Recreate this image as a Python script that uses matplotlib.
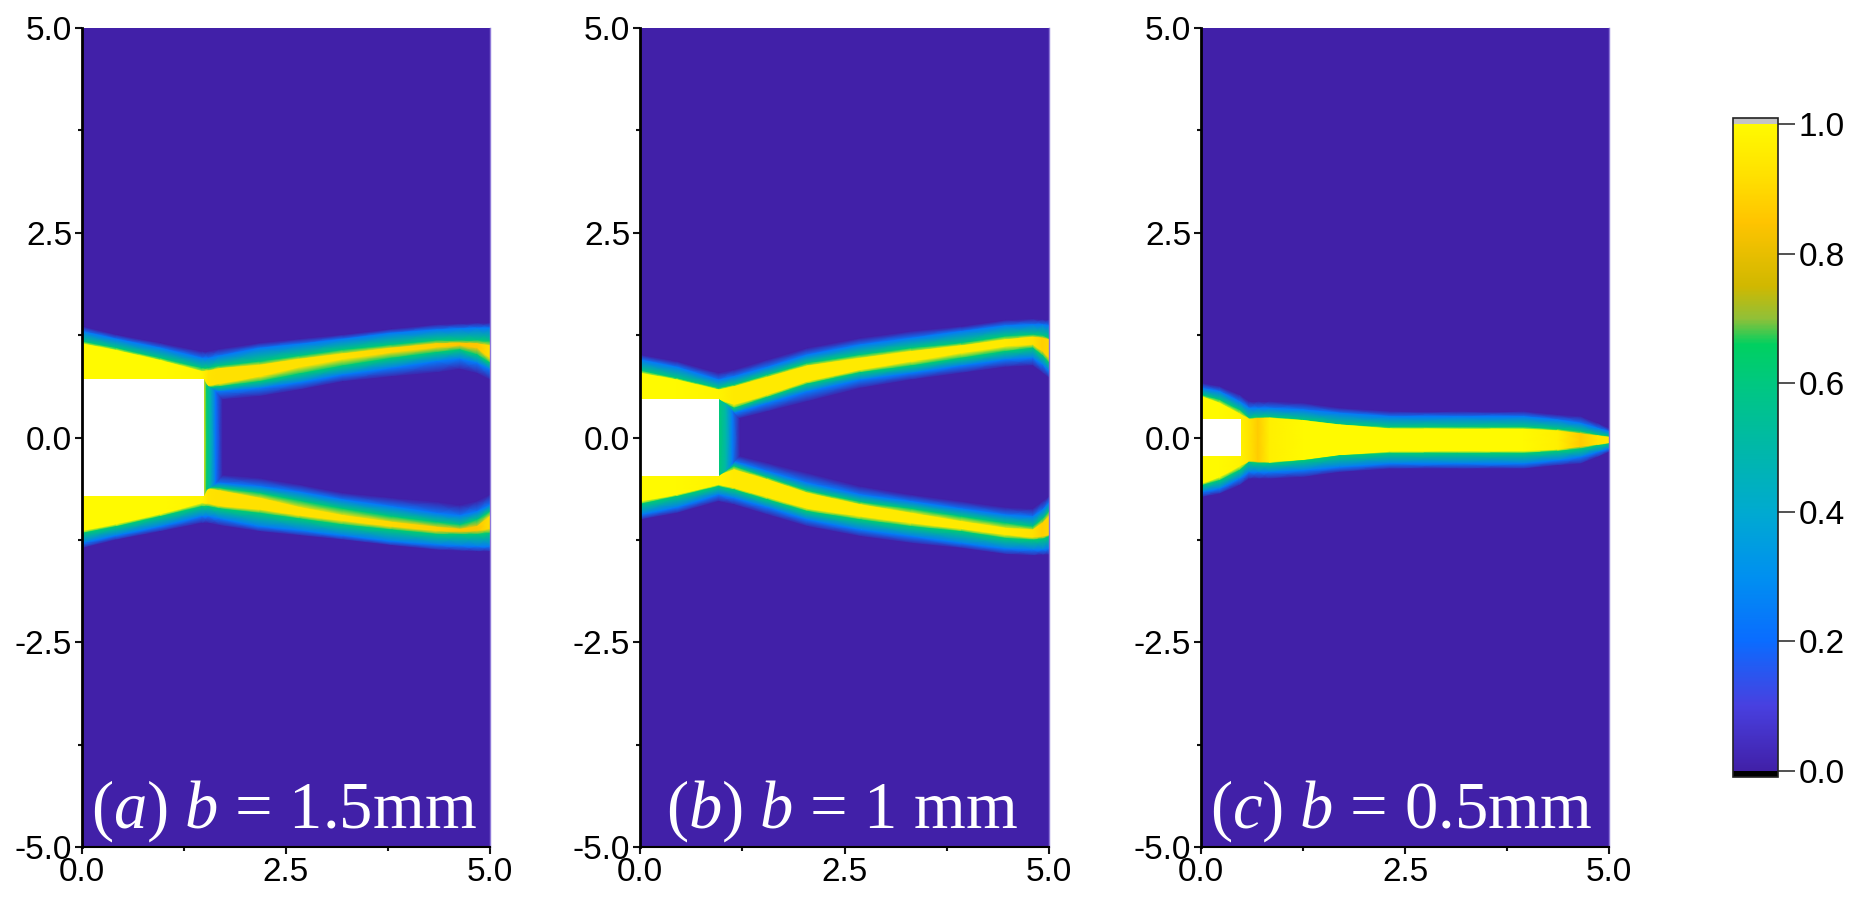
import numpy as np
import matplotlib
matplotlib.use("Agg")
import matplotlib.pyplot as plt
from matplotlib.colors import LinearSegmentedColormap
from matplotlib.patches import Rectangle
from matplotlib.cm import ScalarMappable
from matplotlib.colors import Normalize

plt.rcParams["font.family"] = ["Liberation Sans", "DejaVu Sans"]
plt.rcParams["mathtext.fontset"] = "custom"
plt.rcParams["mathtext.rm"] = "Liberation Serif"
plt.rcParams["mathtext.it"] = "Liberation Serif:italic"

W, H = 1855, 917

# colour scale
cbar_pos = [0.0, 0.1, 0.2, 0.3, 0.4, 0.5, 0.6, 0.66, 0.7, 0.75, 0.85, 0.92, 1.0]
cbar_col = ["#4120A8", "#4840E0", "#0A6CFF", "#0090F0", "#00AAD0", "#00B8A8", "#00C880",
            "#00D060", "#90C038", "#D0B800", "#FFC400", "#FFE000", "#FFFA00"]
cbar_ticks = [0.0, 0.2, 0.4, 0.6, 0.8, 1.0]
axis_major = [0.0, 2.5, 5.0]
y_major = [-5.0, -2.5, 0.0, 2.5, 5.0]

# contour levels of the rows below
lvl_blue = 0.24
lvl_green = 0.62

# panel (a): contour heights of the upper branch at each station
a_x = [0, .42, .96, 1.47, 1.55, 1.69, 2.18, 2.67, 3.2, 3.8, 4.35, 4.63, 4.84, 5.0]
a_po = [1.355, 1.253, 1.151, 1.049, 1.049, 1.078, 1.151, 1.2, 1.253, 1.322, 1.376, 1.388, 1.396, 1.396]
a_bo = [1.294, 1.2, 1.09, .967, .967, .996, 1.09, 1.139, 1.2, 1.273, 1.314, 1.327, 1.335, 1.335]
a_go = [1.171, 1.09, .967, .845, .845, .873, .927, .996, 1.069, 1.131, 1.184, 1.184, 1.184, 1.171]
a_yo = [1.143, 1.061, .939, .804, .812, .841, .882, .955, 1.02, 1.09, 1.143, 1.151, 1.143, 1.118]
a_yi = [.71, .71, .71, .71, .629, .653, .743, .857, .955, 1.037, 1.098, 1.122, 1.09, .967]
a_gi = [.69, .69, .69, .69, .612, .62, .682, .776, .873, .967, 1.037, 1.069, 1.008, .906]
a_bi = [.6, .6, .6, .6, .58, .559, .6, .669, .763, .845, .927, .955, .906, .824]
a_pi = [.5, .5, .5, .5, .48, .457, .5, .58, .68, .74, .79, .83, .78, .70]
a_z = [1, 1, 1, .98, .93, .92, .92, .92, .92, .9, .88, .85, .85, .92]
a_wall_x = [1.49, 1.53, 1.57, 1.64, 1.72]
a_wall_top = [.71, .63, .61, .55, .46]
a_wall_z = [.92, .62, .5, .22, 0.0]

# panel (b)
b_x = [0, .45, .96, 1.15, 1.56, 2.05, 2.7, 3.32, 3.93, 4.47, 4.8, 4.92, 5.0]
b_po = [1.008, .927, .784, .824, .947, 1.09, 1.212, 1.294, 1.355, 1.429, 1.445, 1.437, 1.437]
b_bo = [.947, .857, .702, .743, .857, 1.008, 1.131, 1.212, 1.294, 1.363, 1.376, 1.376, 1.363]
b_go = [.816, .722, .6, .641, .763, .906, 1.008, 1.09, 1.151, 1.233, 1.253, 1.241, 1.212]
b_yo = [.784, .702, .58, .62, .735, .873, .967, 1.049, 1.118, 1.192, 1.224, 1.212, 1.192]
b_yi = [.465, .465, .465, .396, .518, .682, .824, .927, 1.029, 1.11, 1.131, 1.049, .967]
b_gi = [.457, .457, .457, .355, .49, .653, .792, .873, .967, 1.049, 1.09, .996, .906]
b_bi = [.42, .42, .42, .294, .416, .559, .702, .784, .873, .947, .967, .886, .804]
b_pi = [.37, .37, .37, .212, .314, .437, .6, .702, .784, .857, .873, .784, .722]
b_z = [1, 1, .98, .95, .95, .95, .95, .95, .95, .95, .92, .88, .9]
b_wall_x = [.96, 1.05, 1.13, 1.22]
b_wall_top = [.465, .40, .32, .21]
b_wall_z = [.62, .5, .25, 0.0]

# panel (c): the band closes into a single jet
c_x = [0, .225, .47, .59, .7, .84, 1.25, 1.7, 2.32, 3.14, 3.95, 4.37, 4.65, 4.86, 5.0]
c_po = [.698, .657, .555, .473, .473, .473, .453, .392, .351, .351, .351, .31, .29, .208, .147]
c_bo = [.637, .596, .473, .392, .392, .392, .371, .331, .29, .29, .29, .249, .208, .147, .106]
c_go = [.555, .494, .371, .269, .28, .282, .249, .188, .159, .159, .159, .135, .106, .065, .045]
c_yo = [.535, .453, .322, .257, .265, .269, .241, .188, .139, .135, .135, .114, .078, .053, .037]
c_zero = [0] * 15
c_z = [1, 1, .98, .93, .87, .97, 1, 1, 1, 1, 1, .97, .87, .93, .95]

hole_w = [1.49, .96, .49]
hole_h = [.71, .465, .22]
mid = [0.0, 0.0, -.035]
labels = [r"$\mathit{(a)\ b}$ = 1.5mm", r"$\mathit{(b)\ b}$ = 1 mm", r"$\mathit{(c)\ b}$ = 0.5mm"]
label_x = [.11, .32, .11]

panels = [
    (a_x, a_po, a_bo, a_go, a_yo, a_yi, a_gi, a_bi, a_pi, a_z, a_wall_x, a_wall_top, a_wall_z),
    (b_x, b_po, b_bo, b_go, b_yo, b_yi, b_gi, b_bi, b_pi, b_z, b_wall_x, b_wall_top, b_wall_z),
    (c_x, c_po, c_bo, c_go, c_yo, c_zero, c_zero, c_zero, c_zero, c_z, None, None, None),
]
ax_left = [82, 640, 1201]
ax_right = [490, 1049, 1609]
ax_top, ax_bottom = 28, 847

cmap = LinearSegmentedColormap.from_list("field", list(zip(cbar_pos, cbar_col)), N=512)
cmap.set_over("#C4C4C4")
cmap.set_under("#000000")

fig = plt.figure(figsize=(W / 100, H / 100), dpi=100)

for i, p in enumerate(panels):
    x, po, bo, go, yo, yi, gi, bi, pi_, z, wx, wt, wz = p
    ax = fig.add_axes([ax_left[i] / W, 1 - ax_bottom / H, (ax_right[i] - ax_left[i]) / W, (ax_bottom - ax_top) / H])
    x = np.array(x, dtype=float)
    n = len(x)
    upper = [np.array(r, dtype=float) for r in (po, bo, go, yo, yi, gi, bi, pi_)]
    z = np.array(z, dtype=float)
    zrow = [0 * z, lvl_blue + 0 * z, lvl_green + 0 * z, z, z, lvl_green + 0 * z, lvl_blue + 0 * z, 0 * z]
    ys = [np.full(n, 5.0 - mid[i])] + upper + [np.zeros(n)] + [-r for r in upper[::-1]] + [np.full(n, -5.0 - mid[i])]
    zs = [0 * z] + zrow + [0 * z] + zrow[::-1] + [0 * z]
    Y = np.array(ys) + mid[i]
    X = np.tile(x, (len(ys), 1))
    Z = np.array(zs)
    ax.pcolormesh(X, Y, Z, shading="gouraud", cmap=cmap, vmin=0, vmax=1)
    if wx is not None:
        wt = np.array(wt)
        wz = np.array(wz)
        ax.pcolormesh(np.tile(wx, (2, 1)), np.array([wt, -wt]), np.array([wz, wz]),
                      shading="gouraud", cmap=cmap, vmin=0, vmax=1)
    ax.add_patch(Rectangle((0, -hole_h[i]), hole_w[i], 2 * hole_h[i], fc="white", ec="none", zorder=3))
    ax.set_xlim(0, 5)
    ax.set_ylim(-5, 5)
    ax.set_xticks(axis_major)
    ax.set_xticklabels(["%.1f" % v for v in axis_major])
    ax.set_xticks([1.25, 3.75], minor=True)
    ax.set_yticks(y_major)
    ax.set_yticklabels(["%.1f" % v for v in y_major])
    ax.set_yticks([-3.75, -1.25, 1.25, 3.75], minor=True)
    ax.tick_params(which="major", length=5, width=1.5, labelsize=24, pad=2, color="#111111")
    ax.tick_params(which="minor", length=3, width=1.5, color="#111111")
    ax.spines["top"].set_visible(False)
    ax.spines["right"].set_color("#8E78D8")
    ax.spines["right"].set_linewidth(1)
    ax.spines["left"].set_linewidth(2)
    ax.spines["bottom"].set_linewidth(1.5)
    ax.spines["left"].set_zorder(5)
    ax.text(label_x[i], -4.76, labels[i], color="white", fontsize=48, va="baseline", ha="left",
            family="Liberation Serif", zorder=6)

cax = fig.add_axes([1733 / W, 1 - 777 / H, 45 / W, (777 - 118) / H])
sm = ScalarMappable(norm=Normalize(0, 1), cmap=cmap)
cb = fig.colorbar(sm, cax=cax, extend="both", extendrect=True, extendfrac=0.01, ticks=cbar_ticks)
cb.ax.set_yticklabels(["%.1f" % v for v in cbar_ticks])
cb.ax.tick_params(length=12, width=1.2, labelsize=24, pad=3, color="#333333")
cb.outline.set_linewidth(1.2)
cb.outline.set_edgecolor("#222222")

fig.savefig("out.png", dpi=100)
